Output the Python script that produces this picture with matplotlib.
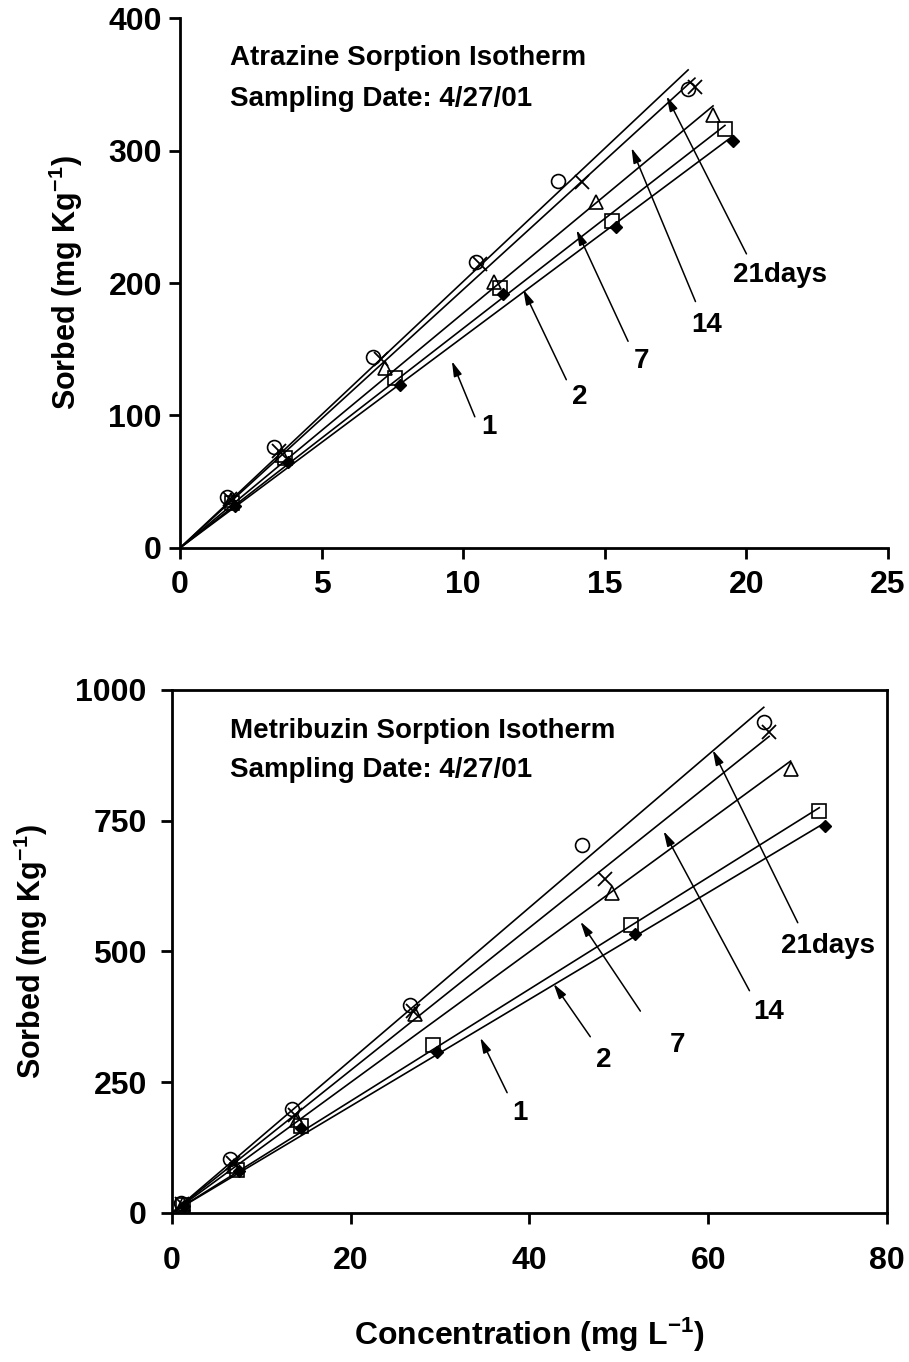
import numpy as np
import matplotlib
matplotlib.use('Agg')
import matplotlib.pyplot as plt

plt.rcParams['font.family'] = ['Liberation Sans', 'DejaVu Sans']
plt.rcParams['font.weight'] = 'bold'
plt.rcParams['mathtext.fontset'] = 'custom'
plt.rcParams['mathtext.rm'] = 'Liberation Sans:bold'
plt.rcParams['mathtext.default'] = 'rm'

# Series order: 21, 14, 7, 2, 1 days
days = ['21', '14', '7', '2', '1']
markers = ['o', 'x', '^', 's', 'D']

# Atrazine (top panel)
atr_x = [
    [1.65, 3.32, 6.82, 10.45, 13.35, 17.94],
    [1.75, 3.50, 7.10, 10.60, 14.18, 18.18],
    [1.80, 3.60, 7.24, 11.10, 14.70, 18.82],
    [1.85, 3.70, 7.60, 11.30, 15.24, 19.24],
    [1.94, 3.80, 7.77, 11.40, 15.40, 19.53],
]
atr_y = [
    [38.7, 75.9, 144, 215.6, 277, 346.7],
    [37, 73, 143, 214, 276, 348],
    [36, 70, 136, 201, 261, 326.5],
    [34, 68, 128, 196, 247, 316],
    [32, 65, 123, 192, 242, 307],
]

# Metribuzin (bottom panel)
met_x = [
    [1.0, 6.5, 13.4, 26.6, 45.9, 66.2],
    [1.1, 6.8, 13.8, 27.0, 48.4, 66.8],
    [1.2, 7.0, 14.0, 27.2, 49.2, 69.2],
    [1.3, 7.3, 14.4, 29.2, 51.4, 72.4],
    [1.4, 7.5, 14.5, 29.7, 51.8, 73.1],
]
met_y = [
    [20, 104, 198, 398, 703, 939],
    [18, 95, 188, 386, 638, 920],
    [17, 90, 178, 380, 612, 849],
    [16, 82, 167, 322, 550, 768],
    [14, 80, 162, 308, 533, 739],
]

# arrow annotations: label, head (x, y), tail (x, y), label position
atr_labels = ['21days', '14', '7', '2', '1']
atr_heads = [(17.18, 341), (15.94, 302), (14.0, 240), (12.12, 195), (9.6, 141)]
atr_tails = [(20.0, 222), (18.2, 186), (15.82, 156), (13.64, 127), (10.41, 99)]
atr_text = [(21.2, 206), (18.6, 168), (16.3, 141), (14.1, 114), (10.9, 91)]

met_labels = ['21days', '14', '7', '2', '1']
met_heads = [(60.5, 885), (55.0, 730), (45.7, 557), (42.7, 438), (34.5, 335)]
met_tails = [(70.0, 555), (64.6, 425), (52.4, 386), (46.8, 337), (37.5, 230)]
met_text = [(73.4, 510), (66.7, 385), (56.5, 322), (48.3, 293), (38.9, 192)]

fig = plt.figure(figsize=(9.09, 13.62), dpi=100)
ax1 = fig.add_axes([0.198, 0.5977, 0.779, 0.389])
ax2 = fig.add_axes([0.189, 0.1094, 0.787, 0.384])


def draw_panel(ax, xs, ys):
    for x, y, m in zip(xs, ys, markers):
        x = np.array(x)
        y = np.array(y)
        k = np.sum(x * y) / np.sum(x * x)
        xl = np.array([0, x.max()])
        ax.plot(xl, k * xl, color='black', lw=1.2, zorder=2)
        if m == 'D':
            ax.plot(x, y, ls='none', marker='D', ms=6, color='black', zorder=3)
        elif m == 'x':
            ax.plot(x, y, ls='none', marker='x', ms=10, mew=1.3, color='black', zorder=3)
        else:
            ax.plot(x, y, ls='none', marker=m, ms=10, mfc='none', mec='black',
                    mew=1.2, zorder=3)


def draw_arrows(ax, labels, heads, tails, texts):
    for lab, h, t, p in zip(labels, heads, tails, texts):
        ax.annotate('', xy=h, xytext=t,
                    arrowprops=dict(arrowstyle='-|>,head_length=0.9,head_width=0.25',
                                    color='black', lw=1.1, shrinkA=0, shrinkB=0))
        ax.text(p[0], p[1], lab, fontsize=20, fontweight='bold', ha='center', va='center')


draw_panel(ax1, atr_x, atr_y)
draw_arrows(ax1, atr_labels, atr_heads, atr_tails, atr_text)
ax1.set_xlim(0, 25)
ax1.set_ylim(0, 400)
ax1.set_xticks(np.arange(0, 26, 5))
ax1.set_yticks(np.arange(0, 401, 100))
ax1.spines['top'].set_visible(False)
ax1.spines['right'].set_visible(False)
ax1.text(1.76, 370, 'Atrazine Sorption Isotherm', fontsize=20, fontweight='bold', va='center')
ax1.text(1.76, 339, 'Sampling Date: 4/27/01', fontsize=20, fontweight='bold', va='center')
ax1.set_ylabel(r'Sorbed (mg Kg$^{-1}$)', fontsize=22, fontweight='bold')
ax1.yaxis.set_label_coords(-0.134, 0.5)

draw_panel(ax2, met_x, met_y)
draw_arrows(ax2, met_labels, met_heads, met_tails, met_text)
ax2.set_xlim(0, 80)
ax2.set_ylim(0, 1000)
ax2.set_xticks(np.arange(0, 81, 20))
ax2.set_yticks(np.arange(0, 1001, 250))
ax2.text(6.5, 922, 'Metribuzin Sorption Isotherm', fontsize=20, fontweight='bold', va='center')
ax2.text(6.5, 847, 'Sampling Date: 4/27/01', fontsize=20, fontweight='bold', va='center')
ax2.set_ylabel(r'Sorbed (mg Kg$^{-1}$)', fontsize=22, fontweight='bold')
ax2.yaxis.set_label_coords(-0.170, 0.5)
ax2.set_xlabel(r'Concentration (mg L$^{-1}$)', fontsize=23, fontweight='bold')
ax2.xaxis.set_label_coords(0.5, -0.197)

for ax in (ax1, ax2):
    for s in ax.spines.values():
        s.set_linewidth(2)
    ax.tick_params(direction='out', length=8, width=2, labelsize=23)
    for lab in ax.get_xticklabels() + ax.get_yticklabels():
        lab.set_fontweight('bold')

ax1.xaxis.set_tick_params(pad=8)
ax1.yaxis.set_tick_params(pad=5)
ax2.xaxis.set_tick_params(pad=16)
ax2.yaxis.set_tick_params(pad=10)

fig.savefig('out.png', dpi=100)
